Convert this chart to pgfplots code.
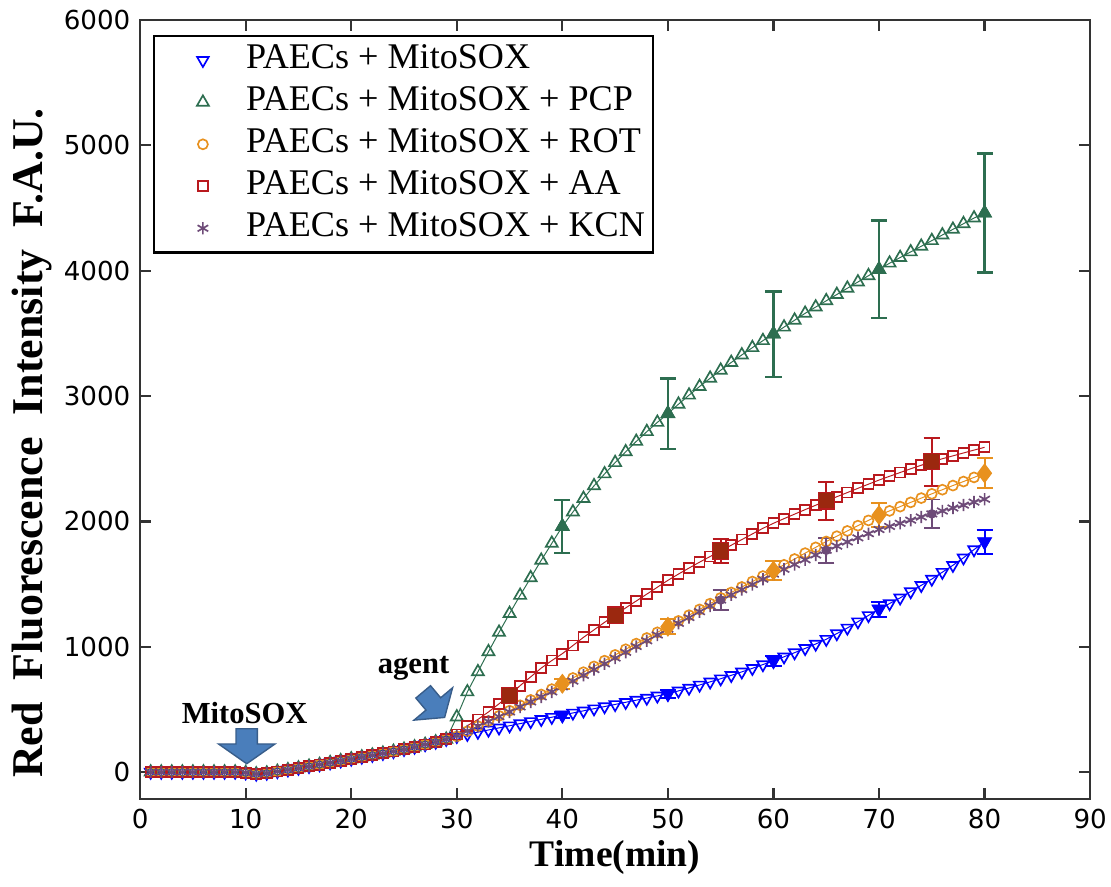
\documentclass[border=0pt]{standalone}
\usepackage{pgfplots}
\pgfplotsset{compat=1.18}
\usepackage{pgfplotstable}
\usepackage{fontspec}
\setmainfont{Liberation Serif}
\newfontfamily\tickfont{DejaVu Sans}
\usetikzlibrary{shapes.arrows}

\definecolor{cblue}{RGB}{0,0,255}
\definecolor{cgreen}{RGB}{45,110,80}
\definecolor{corange}{RGB}{232,145,30}
\definecolor{cred}{RGB}{185,25,30}
\definecolor{credfill}{RGB}{155,40,15}
\definecolor{cpurple}{RGB}{110,75,120}
\definecolor{arrowblue}{RGB}{74,126,187}
\definecolor{arrowedge}{RGB}{56,93,138}

\pgfplotstableread[row sep=\\]{
t v\\
1 0\\2 0\\3 0\\4 0\\5 0\\6 0\\7 0\\8 0\\9 0\\10 -5\\11 -15\\12 -8\\13 5\\14 18\\15 32\\16 46\\17 60\\18 75\\19 90\\20 105\\21 120\\22 135\\23 150\\24 165\\25 182\\26 200\\27 220\\28 240\\29 262\\
30 285\\31 302\\32 319\\33 336\\34 353\\35 370\\36 387\\37 404\\38 421\\39 438\\
40 455\\41 472\\42 489\\43 506\\44 523\\45 540\\46 557\\47 574\\48 591\\49 608\\
50 625\\51 648\\52 671\\53 695\\54 720\\55 745\\56 772\\57 800\\58 828\\59 858\\
60 888\\61 920\\62 953\\63 987\\64 1022\\65 1060\\66 1105\\67 1150\\68 1200\\69 1250\\
70 1300\\71 1345\\72 1390\\73 1440\\74 1490\\75 1540\\76 1595\\77 1650\\78 1710\\79 1775\\80 1838\\
}\blueT

\pgfplotstableread[row sep=\\]{
t v\\
1 0\\2 0\\3 0\\4 0\\5 0\\6 0\\7 0\\8 0\\9 0\\10 -5\\11 -15\\12 -8\\13 5\\14 18\\15 32\\16 46\\17 60\\18 75\\19 90\\20 105\\21 120\\22 135\\23 150\\24 165\\25 182\\26 200\\27 220\\28 240\\29 262\\
30 440\\31 640\\32 800\\33 960\\34 1115\\35 1265\\36 1410\\37 1550\\38 1690\\39 1825\\
40 1960\\41 2075\\42 2183\\43 2284\\44 2379\\45 2469\\46 2555\\47 2638\\48 2716\\49 2790\\
50 2860\\51 2935\\52 3007\\53 3076\\54 3142\\55 3206\\56 3268\\57 3328\\58 3386\\59 3442\\
60 3495\\61 3550\\62 3605\\63 3660\\64 3710\\65 3760\\66 3810\\67 3860\\68 3910\\69 3960\\
70 4010\\71 4060\\72 4105\\73 4150\\74 4195\\75 4240\\76 4285\\77 4330\\78 4375\\79 4420\\80 4460\\
}\greenT

\pgfplotstableread[row sep=\\]{
t v\\
1 0\\2 0\\3 0\\4 0\\5 0\\6 0\\7 0\\8 0\\9 0\\10 -5\\11 -15\\12 -8\\13 5\\14 18\\15 32\\16 46\\17 60\\18 75\\19 90\\20 105\\21 120\\22 135\\23 150\\24 165\\25 182\\26 200\\27 220\\28 240\\29 262\\
30 285\\31 326\\32 367\\33 408\\34 449\\35 490\\36 533\\37 576\\38 619\\39 662\\
40 705\\41 751\\42 797\\43 843\\44 889\\45 935\\46 980\\47 1025\\48 1070\\49 1115\\
50 1160\\51 1206\\52 1252\\53 1298\\54 1344\\55 1390\\56 1433\\57 1477\\58 1520\\59 1564\\
60 1607\\61 1654\\62 1700\\63 1747\\64 1793\\65 1840\\66 1882\\67 1924\\68 1966\\69 2008\\
70 2050\\71 2084\\72 2118\\73 2152\\74 2186\\75 2220\\76 2253\\77 2286\\78 2318\\79 2351\\80 2384\\
}\orangeT

\pgfplotstableread[row sep=\\]{
t v\\
1 0\\2 0\\3 0\\4 0\\5 0\\6 0\\7 0\\8 0\\9 0\\10 -5\\11 -15\\12 -8\\13 5\\14 18\\15 32\\16 46\\17 60\\18 75\\19 90\\20 105\\21 120\\22 135\\23 150\\24 165\\25 182\\26 200\\27 220\\28 240\\29 262\\
30 300\\31 370\\32 420\\33 480\\34 545\\35 614\\36 690\\37 760\\38 830\\39 890\\
40 945\\41 1010\\42 1075\\43 1135\\44 1195\\45 1253\\46 1310\\47 1365\\48 1420\\49 1475\\
50 1530\\51 1580\\52 1628\\53 1675\\54 1720\\55 1764\\56 1810\\57 1855\\58 1900\\59 1945\\
60 1985\\61 2022\\62 2058\\63 2094\\64 2129\\65 2163\\66 2197\\67 2230\\68 2264\\69 2297\\
70 2330\\71 2360\\72 2390\\73 2420\\74 2448\\75 2476\\76 2500\\77 2523\\78 2546\\79 2569\\80 2591\\
}\redT

\pgfplotstableread[row sep=\\]{
t v\\
1 0\\2 0\\3 0\\4 0\\5 0\\6 0\\7 0\\8 0\\9 0\\10 -5\\11 -15\\12 -8\\13 5\\14 18\\15 32\\16 46\\17 60\\18 75\\19 90\\20 105\\21 120\\22 135\\23 150\\24 165\\25 182\\26 200\\27 220\\28 240\\29 262\\
30 290\\31 328\\32 366\\33 404\\34 442\\35 480\\36 520\\37 560\\38 600\\39 640\\
40 680\\41 726\\42 772\\43 818\\44 864\\45 910\\46 956\\47 1002\\48 1048\\49 1094\\
50 1140\\51 1187\\52 1233\\53 1280\\54 1326\\55 1373\\56 1414\\57 1456\\58 1497\\59 1539\\
60 1580\\61 1618\\62 1656\\63 1694\\64 1732\\65 1770\\66 1803\\67 1836\\68 1869\\69 1902\\
70 1935\\71 1960\\72 1985\\73 2010\\74 2035\\75 2060\\76 2083\\77 2107\\78 2130\\79 2154\\80 2177\\
}\purpleT

\pgfplotstableread[row sep=\\]{
t v e\\
40 455 25\\50 625 30\\60 888 40\\70 1300 60\\80 1838 95\\
}\blueE
\pgfplotstableread[row sep=\\]{
t v e\\
40 1960 210\\50 2860 280\\60 3495 340\\70 4010 390\\80 4460 475\\
}\greenE
\pgfplotstableread[row sep=\\]{
t v e\\
40 705 40\\50 1160 60\\60 1607 75\\70 2050 95\\80 2384 120\\
}\orangeE
\pgfplotstableread[row sep=\\]{
t v e\\
35 614 50\\45 1253 50\\55 1764 95\\65 2163 150\\75 2476 190\\
}\redE
\pgfplotstableread[row sep=\\]{
t v e\\
55 1373 80\\65 1770 100\\75 2060 115\\
}\purpleE

\begin{document}
\begin{tikzpicture}
\begin{axis}[
  scale only axis, width=341.7pt, height=280.2pt,
  xmin=0, xmax=90, ymin=-215, ymax=6000,
  xtick={0,10,...,90}, ytick={0,1000,...,6000},
  scaled y ticks=false,
  /pgf/number format/1000 sep={},
  /pgf/number format/assume math mode=true,
  tick label style={font=\fontsize{9.4}{11}\tickfont},
  tick align=inside, major tick length=4pt,
  tick style={line width=0.8pt, color=black!80},
  axis line style={line width=0.9pt, black!80},
  xlabel={Time(min)},
  ylabel={Red\hspace{0.5em}Fluorescence\hspace{0.5em}Intensity\hspace{0.5em}F.A.U.},
  xlabel style={font=\bfseries\fontsize{13.5}{15}\selectfont, at={(rel axis cs:0.5,-0.075)}, anchor=center},
  ylabel style={font=\bfseries\fontsize{15.8}{18}\selectfont, at={(rel axis cs:-0.1135,0.457)}, anchor=center},
  legend style={at={(rel axis cs:0.0137,0.9807)}, anchor=north west, draw=black, line width=0.8pt,
    font=\fontsize{13}{15}\selectfont, inner xsep=2pt, inner ysep=2pt, row sep=1.7pt,
    nodes={inner sep=1pt, text height=8.6pt, text depth=2.8pt}},
  legend cell align=left,
  legend image code/.code={\path[draw=none,fill=none] (0pt,0pt) -- (30pt,0pt); \draw[#1] plot coordinates {(15.5pt,0pt)};},
]
% connecting lines
\addplot[forget plot, cblue, line width=0.35pt] table[x=t,y=v] {\blueT};
\addplot[forget plot, cgreen, line width=0.35pt] table[x=t,y=v] {\greenT};
\addplot[forget plot, corange, line width=0.35pt] table[x=t,y=v] {\orangeT};
\addplot[forget plot, cred, line width=0.35pt] table[x=t,y=v] {\redT};
\addplot[forget plot, cpurple, line width=0.35pt] table[x=t,y=v] {\purpleT};
% open markers
\addplot[only marks, cblue, mark=triangle, mark size=2.4pt, mark options={rotate=180, line width=0.6pt}] table[x=t,y=v] {\blueT};
\addlegendentry{PAECs + MitoSOX}
\addplot[only marks, cgreen, mark=triangle, mark size=2.5pt, mark options={line width=0.6pt}] table[x=t,y=v] {\greenT};
\addlegendentry{PAECs + MitoSOX + PCP}
\addplot[only marks, corange, mark=o, mark size=1.8pt, mark options={line width=0.6pt}] table[x=t,y=v] {\orangeT};
\addlegendentry{PAECs + MitoSOX + ROT}
\addplot[only marks, cred, mark=square, mark size=1.8pt, mark options={line width=0.65pt}] table[x=t,y=v] {\redT};
\addlegendentry{PAECs + MitoSOX + AA}
\addplot[only marks, cpurple, mark=asterisk, mark size=2.2pt, mark options={line width=0.6pt}] table[x=t,y=v] {\purpleT};
\addlegendentry{PAECs + MitoSOX + KCN}
% filled markers with error bars
\addplot[forget plot, only marks, cblue, mark=triangle*, mark size=2.8pt, mark options={rotate=180, fill=cblue},
  error bars/.cd, y dir=both, y explicit, error bar style={line width=0.7pt, cblue},
  error mark options={rotate=90, mark size=2.9pt, line width=0.7pt, cblue}]
  table[x=t,y=v,y error=e] {\blueE};
\addplot[forget plot, only marks, cgreen, mark=triangle*, mark size=2.8pt, mark options={fill=cgreen},
  error bars/.cd, y dir=both, y explicit, error bar style={line width=0.8pt, cgreen},
  error mark options={rotate=90, mark size=2.9pt, line width=0.8pt, cgreen}]
  table[x=t,y=v,y error=e] {\greenE};
\addplot[forget plot, only marks, corange, mark=diamond*, mark size=3.3pt, mark options={fill=corange},
  error bars/.cd, y dir=both, y explicit, error bar style={line width=0.7pt, corange},
  error mark options={rotate=90, mark size=2.9pt, line width=0.7pt, corange}]
  table[x=t,y=v,y error=e] {\orangeE};
\addplot[forget plot, only marks, cred, mark=square*, mark size=2.9pt, mark options={fill=credfill, draw=cred},
  error bars/.cd, y dir=both, y explicit, error bar style={line width=0.7pt, cred},
  error mark options={rotate=90, mark size=2.9pt, line width=0.7pt, cred}]
  table[x=t,y=v,y error=e] {\redE};
\addplot[forget plot, only marks, cpurple, mark=*, mark size=1.5pt, mark options={fill=cpurple},
  error bars/.cd, y dir=both, y explicit, error bar style={line width=0.7pt, cpurple},
  error mark options={rotate=90, mark size=2.9pt, line width=0.7pt, cpurple}]
  table[x=t,y=v,y error=e] {\purpleE};
% annotations
\node[single arrow, fill=arrowblue, draw=arrowedge, line width=0.5pt, inner xsep=0pt, inner ysep=3.6pt,
  single arrow head extend=6.3pt, single arrow tip angle=110, minimum height=12.6pt,
  rotate=-90, anchor=tip] at (axis cs:10.1,60) {};
\node[single arrow, fill=arrowblue, draw=arrowedge, line width=0.5pt, inner xsep=0pt, inner ysep=3.2pt,
  single arrow head extend=5.6pt, single arrow tip angle=110, minimum height=12pt,
  rotate=-50, anchor=tip] at (axis cs:28.9,431) {};
\node[font=\bfseries\fontsize{11}{13}\selectfont] at (axis cs:9.9,471) {MitoSOX};
\node[font=\bfseries\fontsize{11}{13}\selectfont] at (axis cs:25.9,830) {agent};
\coordinate (SW) at (rel axis cs:0,0);
\coordinate (NE) at (rel axis cs:1,1);
\end{axis}
\pgfresetboundingbox
\path[use as bounding box] ([xshift=-50.4pt,yshift=-31.3pt]SW) rectangle ([xshift=7.5pt,yshift=7.2pt]NE);
\end{tikzpicture}
\end{document}
